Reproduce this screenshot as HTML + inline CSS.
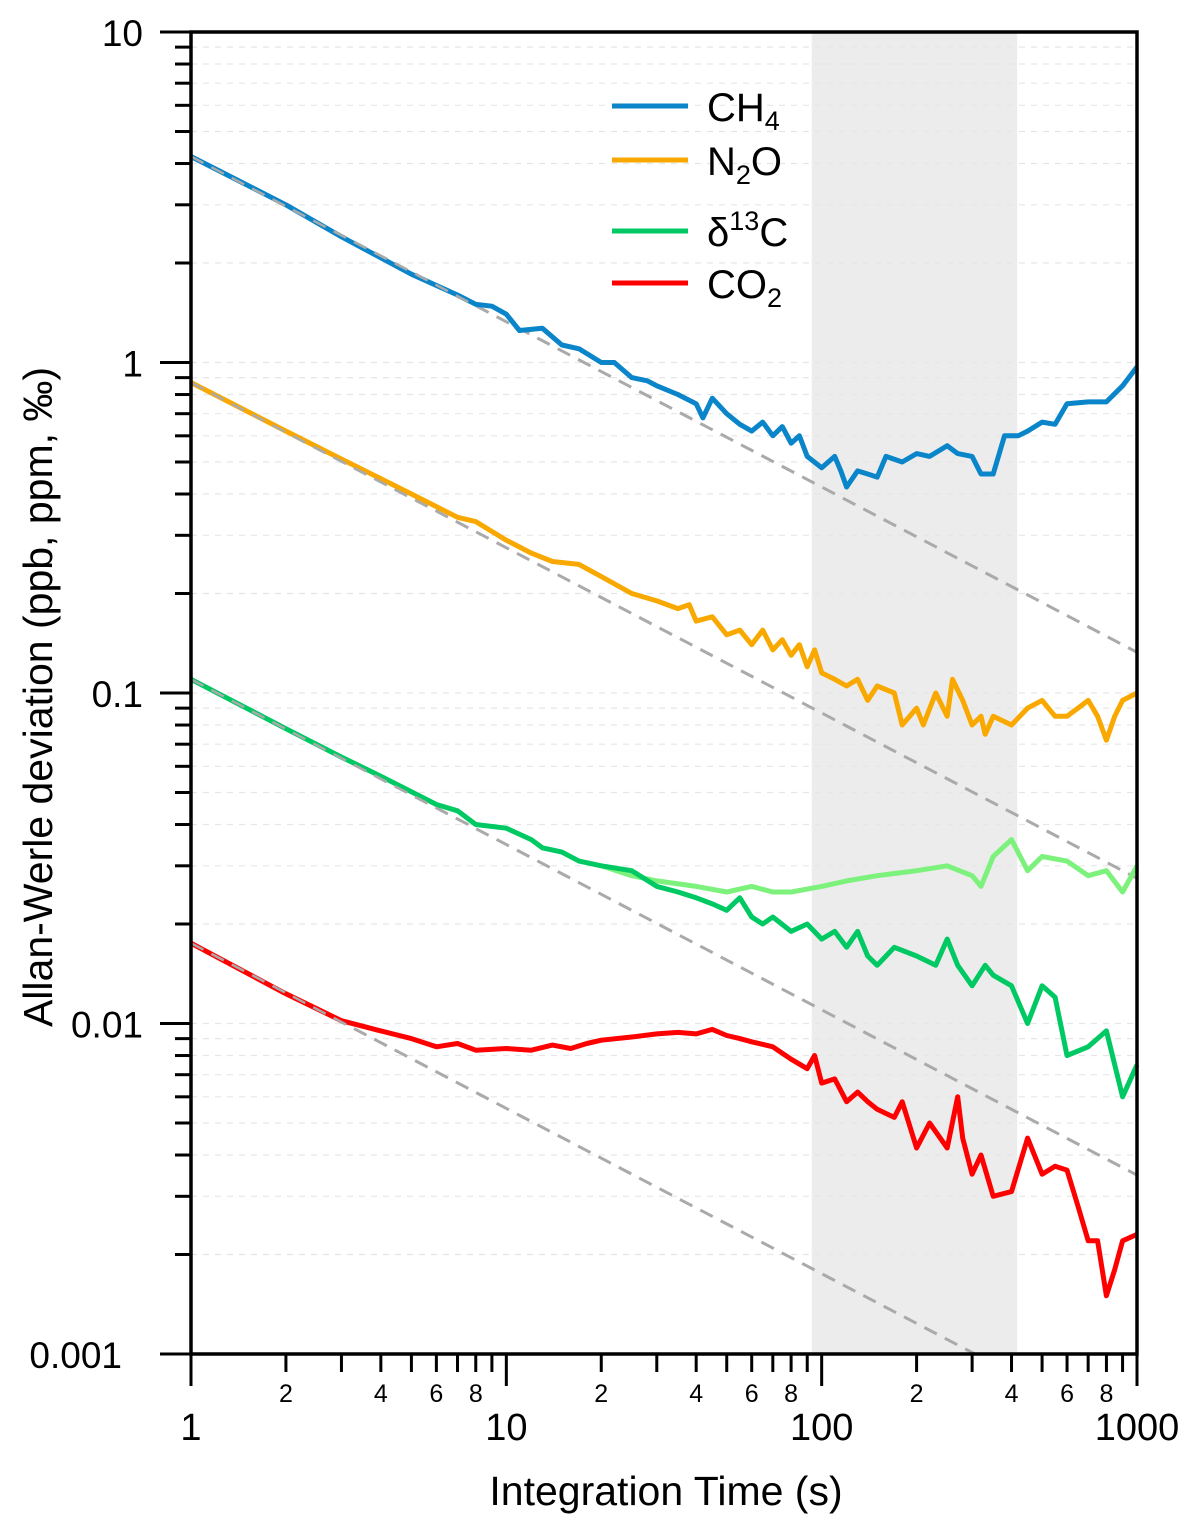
<!DOCTYPE html>
<html><head><meta charset="utf-8"><style>
html,body{margin:0;padding:0;background:#fff}
svg{display:block;font-family:"Liberation Sans",Arial,sans-serif}
</style></head><body>
<svg id="chart" width="1200" height="1532" viewBox="0 0 1200 1532">
<rect id="shade" fill="#ececec"/>
<g id="grid"></g>
<g id="dashes"></g>
<g id="series"></g>
<g id="axes"></g>
<g id="legend">
<line x1="612" y1="106" x2="688" y2="106" stroke="#0a85c9" stroke-width="5"/>
<text x="707" y="121" font-size="40">CH<tspan font-size="27" dy="9">4</tspan></text>
<line x1="612" y1="160" x2="688" y2="160" stroke="#f9a800" stroke-width="5"/>
<text x="707" y="175" font-size="40">N<tspan font-size="27" dy="9">2</tspan><tspan dy="-9">O</tspan></text>
<line x1="612" y1="231" x2="688" y2="231" stroke="#00c964" stroke-width="5"/>
<text x="707" y="246" font-size="40">δ<tspan font-size="27" dy="-16">13</tspan><tspan dy="16">C</tspan></text>
<line x1="612" y1="283" x2="688" y2="283" stroke="#ff0000" stroke-width="5"/>
<text x="707" y="298" font-size="40">CO<tspan font-size="27" dy="9">2</tspan></text>
</g>
<text x="666" y="1505" font-size="41" text-anchor="middle">Integration Time (s)</text>
<text transform="translate(52,697) rotate(-90)" font-size="41" text-anchor="middle">Allan-Werle deviation (ppb, ppm, ‰)</text>
</svg>
<script>
const shadeRange=[93,417];
const ch4Tau=[1,2,3,5,7,8,9,10,11,13,15,17,20,22,25,28,30,35,40,42,45,50,55,60,65,70,75,80,85,90,100,110,115,120,130,140,150,160,180,200,220,250,270,300,320,350,380,420,450,500,550,600,700,800,900,1000];
const ch4Val=[4.2,3.0,2.4,1.85,1.6,1.5,1.48,1.4,1.25,1.27,1.13,1.1,1.0,1.0,0.9,0.88,0.85,0.8,0.75,0.68,0.78,0.7,0.65,0.62,0.66,0.6,0.64,0.57,0.6,0.52,0.48,0.52,0.47,0.42,0.47,0.46,0.45,0.52,0.5,0.53,0.52,0.56,0.53,0.52,0.46,0.46,0.6,0.6,0.62,0.66,0.65,0.75,0.76,0.76,0.85,0.97];
const n2oTau=[1,2,3,5,7,8,10,12,14,17,20,25,30,35,38,40,45,50,55,60,65,70,75,80,85,90,95,100,110,120,130,140,150,170,180,200,210,230,250,260,280,300,320,330,350,400,450,500,550,600,650,700,750,800,850,900,1000];
const n2oVal=[0.87,0.62,0.51,0.40,0.34,0.33,0.29,0.265,0.25,0.245,0.225,0.2,0.19,0.18,0.185,0.165,0.17,0.15,0.155,0.14,0.155,0.135,0.145,0.13,0.14,0.12,0.135,0.115,0.11,0.105,0.11,0.095,0.105,0.1,0.08,0.09,0.08,0.1,0.085,0.11,0.095,0.08,0.085,0.075,0.085,0.08,0.09,0.095,0.085,0.085,0.09,0.095,0.085,0.072,0.085,0.095,0.1];
const d13Tau=[1,2,3,4,6,7,8,10,12,13,15,17,20,25,30,35,40,45,50,55,60,65,70,80,90,100,110,120,130,140,150,170,200,230,250,270,300,330,350,400,450,500,550,600,700,800,900,1000];
const d13Val=[0.11,0.078,0.064,0.056,0.046,0.044,0.04,0.039,0.036,0.034,0.033,0.031,0.03,0.029,0.026,0.025,0.024,0.023,0.022,0.024,0.021,0.02,0.021,0.019,0.02,0.018,0.019,0.017,0.019,0.016,0.015,0.017,0.016,0.015,0.018,0.015,0.013,0.015,0.014,0.013,0.01,0.013,0.012,0.008,0.0085,0.0095,0.006,0.0075];
const d13bTau=[20,25,30,40,50,60,70,80,100,120,150,200,250,300,320,350,400,450,500,600,700,800,900,1000];
const d13bVal=[0.03,0.028,0.027,0.026,0.025,0.026,0.025,0.025,0.026,0.027,0.028,0.029,0.03,0.028,0.026,0.032,0.036,0.029,0.032,0.031,0.028,0.029,0.025,0.03];
const co2Tau=[1,2,3,4,5,6,7,8,10,12,14,16,18,20,25,30,35,40,45,50,55,60,70,80,90,95,100,110,120,130,140,150,170,180,200,220,250,270,280,300,320,350,400,450,500,550,600,650,700,750,800,850,900,1000];
const co2Val=[0.0175,0.0123,0.0102,0.0095,0.009,0.0085,0.0087,0.0083,0.0084,0.0083,0.0086,0.0084,0.0087,0.0089,0.0091,0.0093,0.0094,0.0093,0.0096,0.0092,0.009,0.0088,0.0085,0.0078,0.0073,0.008,0.0066,0.0068,0.0058,0.0062,0.0058,0.0055,0.0052,0.0058,0.0042,0.005,0.0042,0.006,0.0045,0.0035,0.004,0.003,0.0031,0.0045,0.0035,0.0037,0.0036,0.0028,0.0022,0.0022,0.0015,0.0018,0.0022,0.0023];
const fitStart=[4.2,0.87,0.11,0.0175];
const yTickLabels=["10","1","0.1","0.01","0.001"];
const xTickLabels=["1","10","100","1000"];

const NS="http://www.w3.org/2000/svg";
const X0=191,X1=1137,Y0=1354,Y1=32;
function sx(t){return X0+(X1-X0)*Math.log10(t)/3;}
function sy(v){return Y1+(Y0-Y1)*(1-Math.log10(v))/4;}
function mk(tag,attrs,parent){const e=document.createElementNS(NS,tag);for(const k in attrs)e.setAttribute(k,attrs[k]);parent.appendChild(e);return e;}
const grid=document.getElementById('grid'),axes=document.getElementById('axes');
const sh=document.getElementById('shade');
sh.setAttribute('x',sx(shadeRange[0]));sh.setAttribute('y',Y1);
sh.setAttribute('width',sx(shadeRange[1])-sx(shadeRange[0]));sh.setAttribute('height',Y0-Y1);
for(let d=-3;d<=0;d++){for(let m=1;m<10;m++){const v=m*Math.pow(10,d);const y=sy(v);
 const g=mk('line',{x1:X0,x2:X1,y1:y,y2:y,stroke:'#e6e6e6','stroke-width':1.2,'stroke-dasharray':'6,6'},grid);
 
 const t=mk('line',{x1:X0-(m==1?31:16),x2:X0,y1:y,y2:y,stroke:'#000','stroke-width':3},axes);
 }}
{const t=mk('line',{x1:X0-31,x2:X0,y1:Y1,y2:Y1,stroke:'#000','stroke-width':3},axes);}
yTickLabels.forEach((s,i)=>{const last=i===yTickLabels.length-1;
 const tx=mk('text',{x:last?122:143,y:Y1+i*(Y0-Y1)/4+14,'font-size':37,'text-anchor':'end'},axes);tx.textContent=s;
 });
for(let d=0;d<3;d++){for(let m=1;m<10;m++){const t=m*Math.pow(10,d);const x=sx(t);
 const l=mk('line',{x1:x,x2:x,y1:Y0,y2:Y0+(m==1?32:18),stroke:'#000','stroke-width':3},axes);
 
 if(m%2==0){const tx=mk('text',{x:x,y:1402,'font-size':25,'text-anchor':'middle'},axes);tx.textContent=String(m);
 }}}
{const l=mk('line',{x1:X1,x2:X1,y1:Y0,y2:Y0+32,stroke:'#000','stroke-width':3},axes);}
xTickLabels.forEach((s,i)=>{const tx=mk('text',{x:X0+i*(X1-X0)/3,y:1440,'font-size':38,'text-anchor':'middle'},axes);tx.textContent=s;
 });
const fr=mk('rect',{x:X0,y:Y1,width:X1-X0,height:Y0-Y1,fill:'none',stroke:'#000','stroke-width':3.5},axes);

const dashes=document.getElementById('dashes');
fitStart.forEach(a=>{let tEnd=1000;const vEnd=a/Math.sqrt(1000);if(vEnd<0.001)tEnd=Math.pow(a/0.001,2);
 const l=mk('line',{x1:sx(1),y1:sy(a),x2:sx(tEnd),y2:sy(a/Math.sqrt(tEnd)),stroke:'#aaaaaa','stroke-width':3,'stroke-dasharray':'14,9'},dashes);
 });
const ser=document.getElementById('series');
function line(tau,val,color,name){const d=tau.map((t,i)=>(i?'L':'M')+sx(t).toFixed(1)+','+sy(val[i]).toFixed(1)).join(' ');
 const p=mk('path',{d:d,fill:'none',stroke:color,'stroke-width':5,'stroke-linejoin':'round'},ser);
 }
line(ch4Tau,ch4Val,'#0a85c9','series-ch4');
line(n2oTau,n2oVal,'#f9a800','series-n2o');
line(d13bTau,d13bVal,'#7cf27c','series-d13c-alt');
line(d13Tau,d13Val,'#00c964','series-d13c');
line(co2Tau,co2Val,'#ff0000','series-co2');
fitStart.forEach(a=>{const l=mk('line',{x1:sx(1),y1:sy(a),x2:sx(8),y2:sy(a/Math.sqrt(8)),stroke:'#aaaaaa','stroke-width':2.5,'stroke-dasharray':'14,9'},ser);
 });
</script>
</body></html>
